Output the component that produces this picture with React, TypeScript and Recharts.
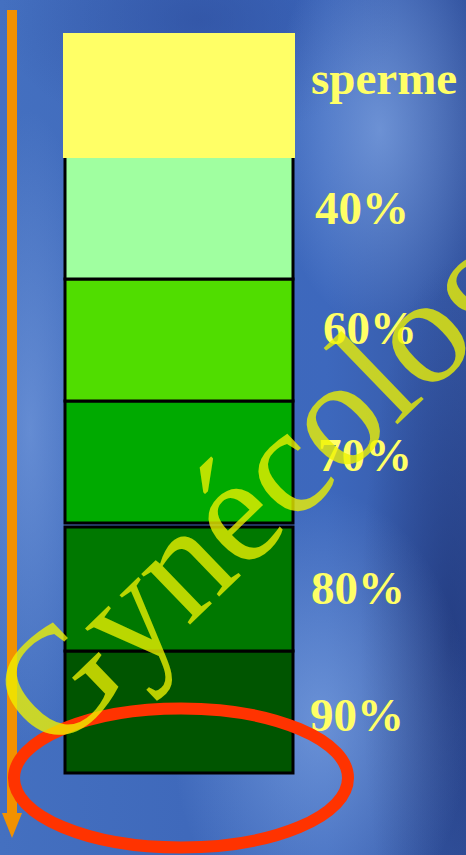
import React from "react";
import { BarChart, Bar, XAxis, YAxis } from "recharts";

// ---- data ----
const categories = ["sperme"];
const segmentKeys = ["s90", "s80", "gap", "s70", "s60", "s40", "sperme"];
const segmentLabels = ["90%", "80%", "", "70%", "60%", "40%", "sperme"];
const segmentValues = [122, 124, 4, 122, 122, 121, 125];

// ---- styles ----
const W = 466;
const H = 855;
const fills: Record<string, string> = {
  s90: "#005500",
  s80: "#007800",
  gap: "transparent",
  s70: "#00aa00",
  s60: "#50dd00",
  s40: "#a0ffa0",
  sperme: "#ffff66",
};
const labelOffsets: Record<string, [number, number]> = {
  s90: [17, 80],
  s80: [18, 77],
  s70: [25, 70],
  s60: [30, 65],
  s40: [22, 66],
  sperme: [18, 61],
};

const data = categories.map((name) => {
  const row: Record<string, string | number> = { name };
  segmentKeys.forEach((k, i) => {
    row[k] = segmentValues[i];
  });
  return row;
});
const total = segmentValues.reduce((a, b) => a + b, 0);

function makeShape(key: string) {
  return (props: any) => {
    const x = Number(props.x);
    const y = Number(props.y);
    const w = Number(props.width);
    const h = Number(props.height);
    if (key === "gap") return <g />;
    if (key === "sperme") {
      return <rect x={x - 2} y={y} width={w + 4} height={h} fill={fills[key]} />;
    }
    const d =
      key === "s40"
        ? `M${x},${y} L${x},${y + h} L${x + w},${y + h} L${x + w},${y}`
        : `M${x},${y} L${x},${y + h} L${x + w},${y + h} L${x + w},${y} Z`;
    return (
      <g>
        <rect x={x} y={y} width={w} height={h} fill={fills[key]} />
        <path d={d} fill="none" stroke="#000" strokeWidth={3} />
      </g>
    );
  };
}

function makeLabel(key: string, text: string) {
  return (props: any) => {
    const off = labelOffsets[key];
    if (!off || !text) return <g />;
    const x = Number(props.x) + Number(props.width) + off[0];
    const y = Number(props.y) + off[1];
    return (
      <text
        x={x}
        y={y}
        fill="#ffff66"
        fontFamily="'Liberation Serif', 'Times New Roman', serif"
        fontWeight="bold"
        fontSize={47}
      >
        {text}
      </text>
    );
  };
}

const bg = [
  "radial-gradient(ellipse 110px 200px at 380px 130px, rgba(150,185,240,0.55), rgba(150,185,240,0) 100%)",
  "radial-gradient(ellipse 70px 320px at 30px 430px, rgba(140,175,235,0.45), rgba(140,175,235,0) 100%)",
  "radial-gradient(ellipse 150px 230px at 320px 720px, rgba(160,195,245,0.45), rgba(160,195,245,0) 100%)",
  "radial-gradient(ellipse 90px 380px at 450px 640px, rgba(25,45,110,0.6), rgba(25,45,110,0) 100%)",
  "radial-gradient(ellipse 200px 120px at 200px 20px, rgba(40,70,150,0.5), rgba(40,70,150,0) 100%)",
  "linear-gradient(90deg, #4470c0 0%, #3f69bb 40%, #3d68bd 70%, #3556a2 100%)",
].join(", ");

export default function App() {
  return (
    <div
      style={{
        position: "absolute",
        left: 0,
        top: 0,
        width: W,
        height: H,
        background: bg,
        overflow: "hidden",
      }}
    >
      <svg width={W} height={H} style={{ position: "absolute", left: 0, top: 0 }}>
        <rect x={7} y={10} width={10} height={808} fill="#f29100" />
        <polygon points="2,813 22,813 12,838" fill="#f29100" />
      </svg>
      <div style={{ position: "absolute", left: 0, top: 0 }}>
        <BarChart
          width={W}
          height={H}
          data={data}
          margin={{ top: 33, right: 173, bottom: 82, left: 65 }}
          barCategoryGap={0}
          barGap={0}
        >
          <XAxis dataKey="name" hide />
          <YAxis hide domain={[0, total]} />
          {segmentKeys.map((k, i) => (
            <Bar
              key={k}
              dataKey={k}
              stackId="a"
              fill={fills[k]}
              isAnimationActive={false}
              shape={makeShape(k)}
              label={makeLabel(k, segmentLabels[i])}
            />
          ))}
        </BarChart>
      </div>
      <svg width={W} height={H} style={{ position: "absolute", left: 0, top: 0 }}>
        <ellipse cx={181} cy={778} rx={167} ry={69.5} fill="none" stroke="#ff3300" strokeWidth={12} />
        <text
          x={53}
          y={757}
          transform="rotate(-44 53 757)"
          fontSize={153}
          fontFamily="'Liberation Serif', 'Times New Roman', serif"
          fill="#eef200"
          fillOpacity={0.78}
        >
          Gynécologie
        </text>
      </svg>
    </div>
  );
}
